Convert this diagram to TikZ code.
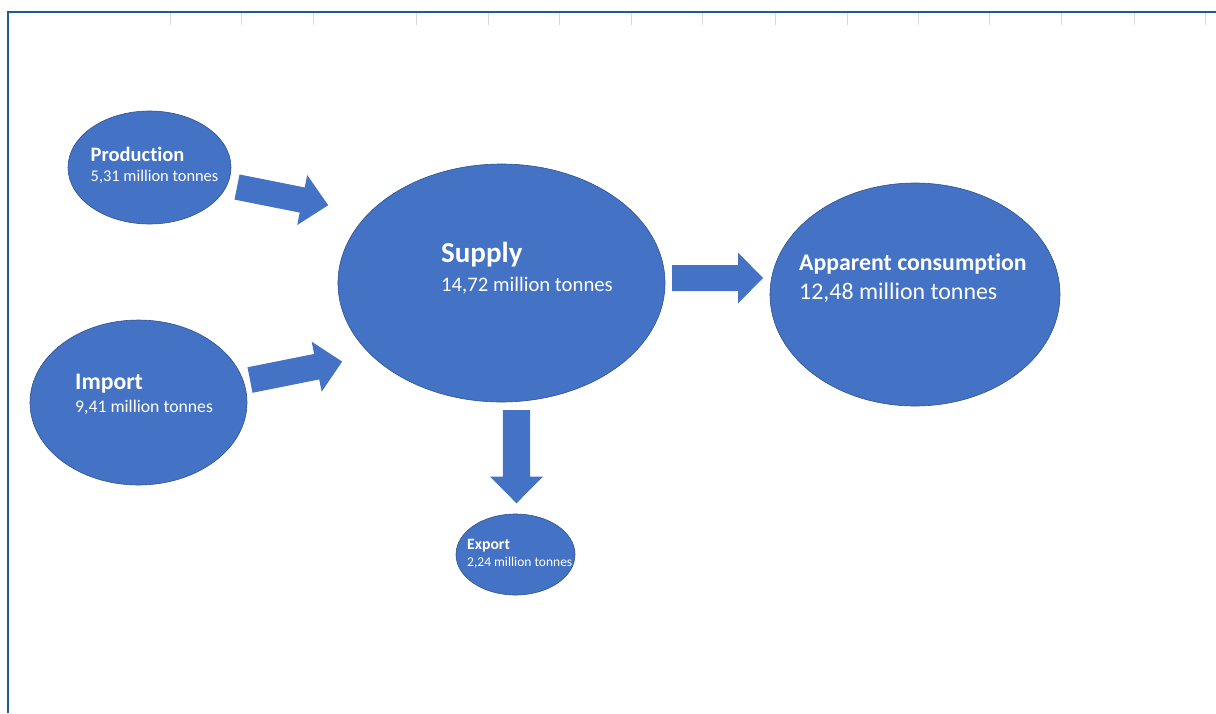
\documentclass[tikz,border=0pt]{standalone}
\usepackage{fontspec}
\setmainfont{Carlito}[Ligatures={NoCommon}]
\usetikzlibrary{shapes.geometric}
\definecolor{blobfill}{HTML}{4472C4}
\definecolor{blobline}{HTML}{2F528F}
\definecolor{framecol}{HTML}{1F5A96}
\definecolor{tickcol}{HTML}{D9D9D9}
\tikzset{
  blob/.style={ellipse, fill=blobfill, draw=blobline, line width=0.6pt, inner sep=0pt},
  blockarrow/.style={fill=blobfill, draw=none},
  lbl/.style={anchor=base west, inner sep=0pt, text=white},
}
\newcommand{\fsz}[1]{\fontsize{#1}{#1}\selectfont}
% tail x, tail y, angle, length, head length, head half width, shaft half width
\newcommand{\barrow}[7]{%
  \fill[blockarrow, shift={(#1,#2)}, rotate=#3]
    (0,-#7) -- (#4-#5,-#7) -- (#4-#5,-#6) -- (#4,0) -- (#4-#5,#6) -- (#4-#5,#7) -- (0,#7) -- cycle;
}
\begin{document}
\begin{tikzpicture}[x=1pt, y=-1pt]
\useasboundingbox (0,0) rectangle (1216,713);
% frame and ticks
\foreach \x in {170,241,313,416,488,559,631,702,775,847,918,989,1061,1134,1205}
  \draw[tickcol, line width=1pt] (\x,13) -- (\x,25);
\draw[framecol, line width=1.8pt] (8,713) -- (8,12) -- (1216,12);

% ellipses
\node[blob, minimum width=163pt, minimum height=113pt] (prod) at (149.5,167.5) {};
\node[blob, minimum width=217pt, minimum height=165pt] (imp) at (138.5,402.5) {};
\node[blob, minimum width=327pt, minimum height=238pt] (sup) at (501.5,283) {};
\node[blob, minimum width=290pt, minimum height=223pt] (cons) at (915,294.5) {};
\node[blob, minimum width=119pt, minimum height=81pt] (exp) at (515.5,554.5) {};

% block arrows
\barrow{237}{187}{-11.3}{93}{26.5}{25.5}{12.8}
\barrow{250}{380}{11.3}{94}{26}{25.5}{13}
\barrow{672}{278}{0}{91}{25}{25.5}{13}
\barrow{516.5}{410}{-90}{93.3}{26.6}{26.3}{13.7}

% labels
\node[lbl] (prodT) at (90.5,161) {\fsz{20.5}\bfseries Production};
\node[lbl] (prodV) at (90.5,181.5) {\fsz{16.4}5,31 million tonnes};
\node[lbl] (impT) at (75,389) {\fsz{23.7}\bfseries Import};
\node[lbl] (impV) at (75,412.5) {\fsz{17.7}9,41 million tonnes};
\node[lbl] (supT) at (441,262.5) {\fsz{29}\bfseries Supply};
\node[lbl] (supV) at (441,291) {\fsz{20.7}14,72 million tonnes};
\node[lbl] (consT) at (799,270) {\fsz{23.8}\bfseries Apparent consumption};
\node[lbl] (consV) at (799,299) {\fsz{23.9}12,48 million tonnes};
\begin{scope}
  \clip (515.5,554.5) ellipse [x radius=57.5pt, y radius=39pt];
  \node[lbl] (expT) at (467,549) {\fsz{15.7}\bfseries Export};
  \node[lbl] (expV) at (467,566.5) {\fsz{13.5}2,24 million tonnes};
\end{scope}
\end{tikzpicture}
\end{document}
